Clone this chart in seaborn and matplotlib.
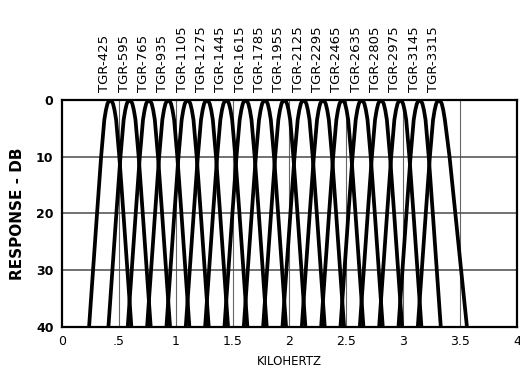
import matplotlib
matplotlib.use("Agg")
import matplotlib.pyplot as plt
import seaborn as sns
import pandas as pd

# filter centre frequencies (Hz)
center_hz = [425, 595, 765, 935, 1105, 1275, 1445, 1615, 1785,
             1955, 2125, 2295, 2465, 2635, 2805, 2975, 3145, 3315]
# one skirt of a filter: response (dB) at distance from centre (Hz)
skirt_db = [0, 0.15, 0.7, 1.8, 3.5, 10, 20, 30, 40]
skirt_offset_hz = [0, 12, 25, 38, 52, 80, 116, 151, 186]
# the top filter's upper skirt is wider
last_upper_offset_hz = [0, 12, 25, 38, 52, 93, 144, 195, 246]

x_ticks = [0, 0.5, 1, 1.5, 2, 2.5, 3, 3.5, 4]
x_ticklabels = ["0", ".5", "1", "1.5", "2", "2.5", "3", "3.5", "4"]
y_ticks = [0, 10, 20, 30, 40]

# build long-form table of all the filter curves
rows = []
for k, fc in enumerate(center_hz):
    name = f"TGR-{fc}"
    upper = last_upper_offset_hz if k == len(center_hz) - 1 else skirt_offset_hz
    pts = [(-o, d) for o, d in zip(skirt_offset_hz[::-1], skirt_db[::-1])]
    pts += [(o, d) for o, d in zip(upper[1:], skirt_db[1:])]
    for i, (off, db) in enumerate(pts):
        rows.append([name, i, (fc + off) / 1000.0, db])
df = pd.DataFrame(rows, columns=["Filter", "order", "kHz", "dB"])

sns.set_theme(style="white")
plt.rcParams["font.family"] = ["DejaVu Sans"]
plt.rcParams["text.color"] = "black"
plt.rcParams["axes.labelcolor"] = "black"
plt.rcParams["xtick.color"] = "black"
plt.rcParams["ytick.color"] = "black"

fig = plt.figure(figsize=(5.2, 3.71), dpi=100)
ax = fig.add_axes([0.119, 0.1186, 0.875, 0.612])

for x in x_ticks[1:-1]:
    ax.axvline(x, color="#666666", lw=0.8, zorder=0)
for y in y_ticks[1:-1]:
    ax.axhline(y, color="#4a4a4a", lw=1.1, zorder=0)

sns.lineplot(data=df, x="kHz", y="dB", hue="Filter", units="Filter",
             estimator=None, sort=False, palette=["black"] * len(center_hz),
             legend=False, lw=2.7, ax=ax, zorder=3)

ax.set_xlim(0, 4)
ax.set_ylim(40, 0)
ax.set_xticks(x_ticks)
ax.set_xticklabels(x_ticklabels, fontsize=9)
ax.set_yticks(y_ticks)
ax.set_yticklabels([str(v) for v in y_ticks], fontsize=9, fontweight="bold")
ax.tick_params(length=0, pad=6)
ax.set_xlabel("KILOHERTZ", fontsize=8.5, labelpad=5)
ax.set_ylabel("RESPONSE - DB", fontsize=11, fontweight="bold", labelpad=8)

for s in ax.spines.values():
    s.set_color("black")
    s.set_linewidth(1.6)

for fc in center_hz:
    ax.annotate(f"TGR-{fc}", xy=(fc / 1000.0, 0), xytext=(-4, 6),
                textcoords="offset points", rotation=90, ha="center",
                va="bottom", fontsize=9.5, annotation_clip=False)

fig.savefig("out.png", dpi=100, facecolor="white")
